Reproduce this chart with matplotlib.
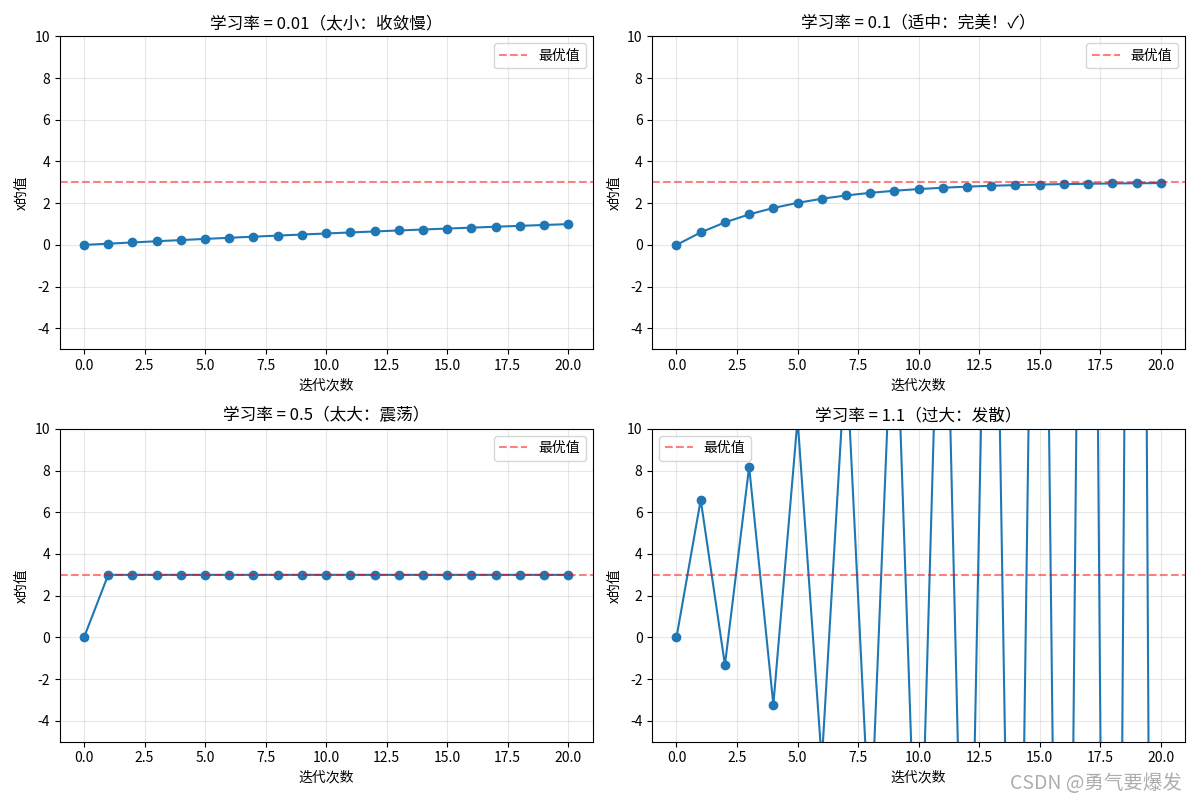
import matplotlib
matplotlib.use('Agg')
import matplotlib.pyplot as plt

plt.rcParams['font.family'] = ['Noto Sans CJK SC', 'DejaVu Sans']
plt.rcParams['axes.unicode_minus'] = False

# x values over iterations for each learning rate
iterations = list(range(21))
optimum = 3.0

titles = [
    '学习率 = 0.01（太小：收敛慢）',
    '学习率 = 0.1（适中：完美！✓）',
    '学习率 = 0.5（太大：震荡）',
    '学习率 = 1.1（过大：发散）',
]

x_lr001 = [0.0, 0.06, 0.1188, 0.1764, 0.2329, 0.2882, 0.3425, 0.3956, 0.4477,
           0.4988, 0.5488, 0.5978, 0.6458, 0.6929, 0.7391, 0.7843, 0.8286,
           0.8720, 0.9146, 0.9563, 0.9972]
x_lr01 = [0.0, 0.6, 1.08, 1.464, 1.7712, 2.017, 2.2136, 2.3709, 2.4967,
          2.5973, 2.6779, 2.7423, 2.7938, 2.8351, 2.8681, 2.8944, 2.9156,
          2.9325, 2.9460, 2.9568, 2.9654]
x_lr05 = [0.0] + [3.0] * 20
x_lr11 = [0.0, 6.6, -1.32, 8.184, -3.2208, 10.465, -5.958, 13.750, -9.899,
          18.479, -15.575, 25.290, -23.748, 35.098, -35.518, 49.221, -52.465,
          69.558, -76.870, 98.844, -112.013]

series = [x_lr001, x_lr01, x_lr05, x_lr11]

fig, axes = plt.subplots(2, 2, figsize=(12, 8), dpi=100)

for ax, title, values in zip(axes.flat, titles, series):
    ax.plot(iterations, values, 'o-', color='#1f77b4')
    ax.axhline(y=optimum, color='r', linestyle='--', alpha=0.5, label='最优值')
    ax.set_title(title, fontsize=12)
    ax.set_xlabel('迭代次数')
    ax.set_ylabel('x的值')
    ax.set_ylim(-5, 10)
    ax.grid(True, alpha=0.3)
    ax.legend()

plt.tight_layout()
fig.text(0.985, 0.008, 'CSDN @勇气要爆发', ha='right', va='bottom',
         fontsize=14, color='#999999', alpha=0.8)
plt.savefig('out.png')
